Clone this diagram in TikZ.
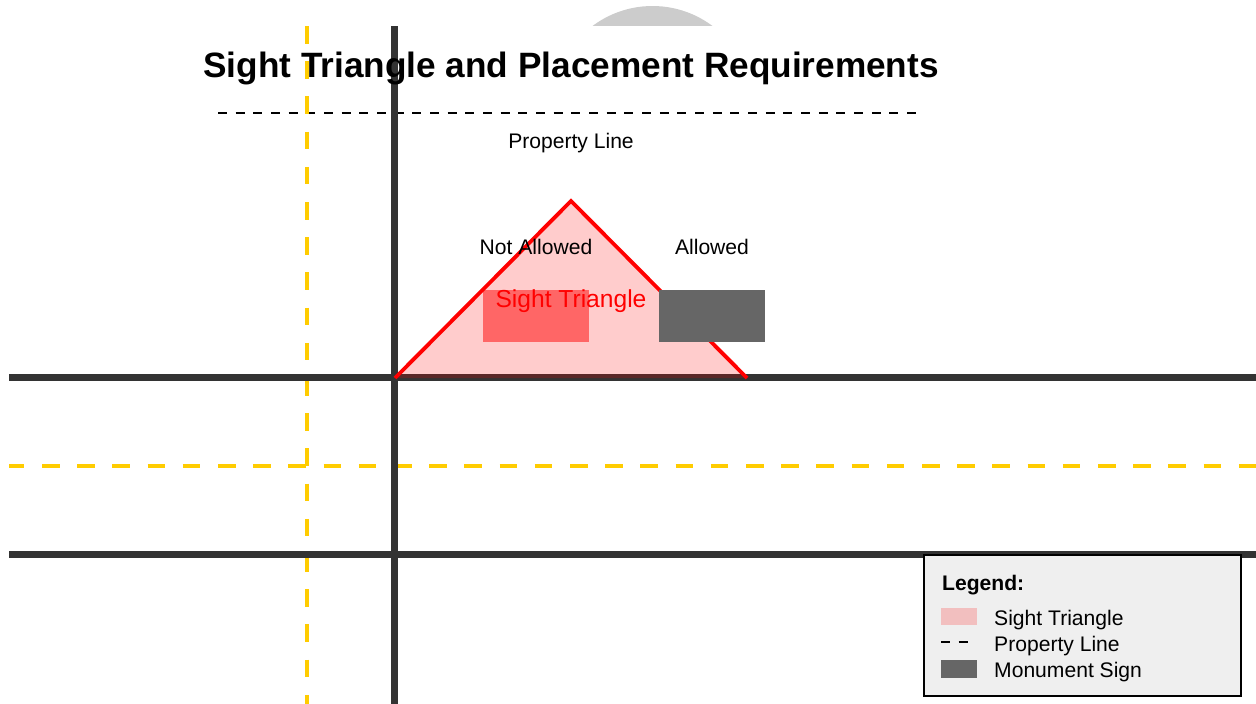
\documentclass[tikz,border=0pt]{standalone}
\usepackage{fontspec}
\setmainfont{Liberation Sans}
\usepackage{xcolor}
\definecolor{roadgray}{HTML}{333333}
\definecolor{laneyellow}{HTML}{FFCC00}
\definecolor{signgray}{HTML}{666666}
\definecolor{legendbg}{HTML}{EFEFEF}
\definecolor{domegray}{HTML}{CCCCCC}
\tikzset{
  road/.style={draw=roadgray,line width=7pt},
  lane/.style={draw=laneyellow,line width=3.8pt,dash pattern=on 17.6pt off 17.6pt},
  propline/.style={draw=black,line width=2pt,dash pattern=on 8.85pt off 8.82pt},
  txt/.style={anchor=base,inner sep=0pt,font=\fontsize{21.1}{25}\selectfont},
  legtxt/.style={anchor=base west,inner sep=0pt,font=\fontsize{21.1}{25}\selectfont},
}
\begin{document}
\begin{tikzpicture}[x=1pt,y=-1pt]
  \useasboundingbox (0,0) rectangle (1256,704);

  \begin{scope}
    \clip (0,25.5) rectangle (1256,0);
    \fill[domegray] (652.5,106) circle (100);
  \end{scope}

  \draw[propline] (218,112.5) -- (916,112.5);

  \draw[lane] (306.7,26) -- (306.7,704);
  \draw[lane,dash phase=2.2pt] (9,465.7) -- (1256,465.7);

  \foreach \y in {377.7,554.3}{
    \draw[road] (9,\y) -- (1256,\y);
  }
  \draw[road] (394.8,26) -- (394.8,704);

  \draw[red,line width=3.8pt,fill=red,fill opacity=0.2] (395,378) -- (571,201) -- (747,378);
  \fill[red,opacity=0.5] (483,290) rectangle (589,342);
  \fill[signgray] (659,290) rectangle (765,342);

  \node[txt,font=\bfseries\fontsize{35.2}{40}\selectfont] (title) at (571,77) {Sight Triangle and Placement Requirements};
  \node[txt] (property) at (571,148) {Property Line};
  \node[txt] (notallowed) at (536,254) {Not Allowed};
  \node[txt] (allowed) at (712,254) {Allowed};
  \node[txt,red,font=\fontsize{24.6}{28}\selectfont] (sight) at (571,307) {Sight Triangle};

  % legend
  \draw[black,line width=2pt,fill=legendbg] (923.5,554.5) rectangle (1241,696);
  \node[legtxt,font=\bfseries\fontsize{21.1}{25}\selectfont] (legend) at (942,590) {Legend:};
  \fill[red,opacity=0.2] (941,607.5) rectangle (977,625);
  \draw[propline] (941,642.3) -- (968,642.3);
  \fill[signgray] (941,660) rectangle (977,677.5);
  \node[legtxt] (legsight) at (994,625) {Sight Triangle};
  \node[legtxt] (legprop) at (994,651) {Property Line};
  \node[legtxt] (legsign) at (994,677) {Monument Sign};
\end{tikzpicture}
\end{document}
